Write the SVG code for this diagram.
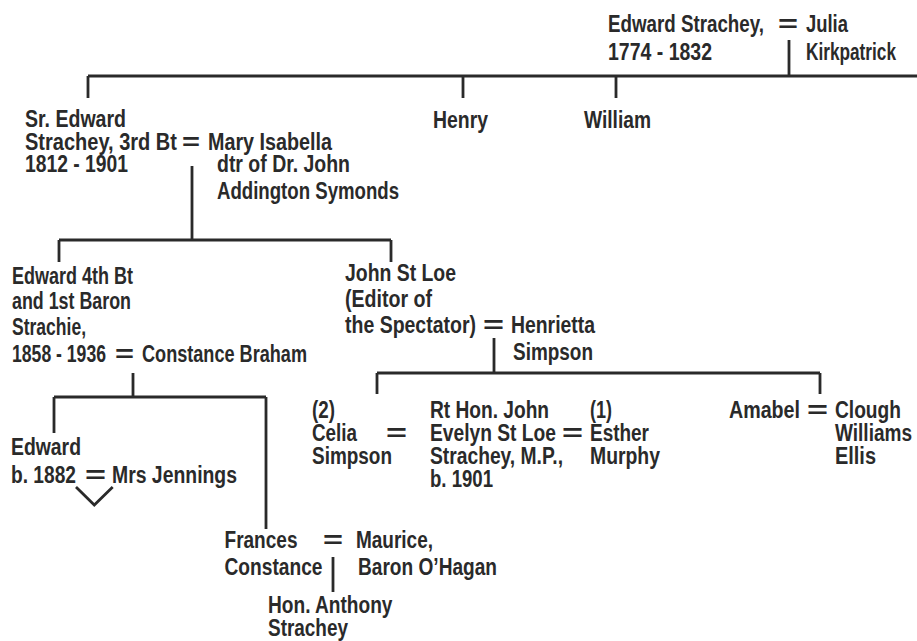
<svg xmlns="http://www.w3.org/2000/svg" width="917" height="641" viewBox="0 0 917 641">
<style>
text{font-family:"Liberation Sans Narrow","Liberation Sans",Arial,sans-serif;font-size:23px;font-weight:bold;fill:#2a2a2a}
.c{stroke:#2a2a2a;stroke-width:2.8;fill:none}
</style>
<rect width="917" height="641" fill="#fff"/>
<g id="connectors" class="c">
<path d="M789 40V76M88 76H917M88 76V98M463 76V98M616 76V98"/>
<path d="M192 166V240M59 240H391M59 240V262M391 240V262"/>
<path d="M133 373V397M54 397H266M54 397V433M266 397V529"/>
<path d="M76 487L94.3 505L112.7 487"/>
<path d="M333 557V592"/>
<path d="M494 338V373M377 373H820M377 373V394M820 373V394"/>
</g>
<g id="edward-strachey-1774">
<text x="608" y="31.5" textLength="156" lengthAdjust="spacingAndGlyphs">Edward Strachey,</text>
<text x="608" y="59.5" textLength="104" lengthAdjust="spacingAndGlyphs">1774 - 1832</text>
<text x="778" y="31.5" textLength="20" lengthAdjust="spacingAndGlyphs">=</text>
</g>
<g id="julia-kirkpatrick">
<text x="806" y="31.5" textLength="42" lengthAdjust="spacingAndGlyphs">Julia</text>
<text x="806" y="59.5" textLength="90" lengthAdjust="spacingAndGlyphs">Kirkpatrick</text>
</g>
<g id="sr-edward">
<text x="25" y="127" textLength="101" lengthAdjust="spacingAndGlyphs">Sr. Edward</text>
<text x="25" y="149.5" textLength="152" lengthAdjust="spacingAndGlyphs">Strachey, 3rd Bt</text>
<text x="25" y="172" textLength="103" lengthAdjust="spacingAndGlyphs">1812 - 1901</text>
<text x="182" y="149.5" textLength="18" lengthAdjust="spacingAndGlyphs">=</text>
</g>
<g id="henry"><text x="433" y="128" textLength="55" lengthAdjust="spacingAndGlyphs">Henry</text></g>
<g id="william"><text x="584" y="128" textLength="67" lengthAdjust="spacingAndGlyphs">William</text></g>
<g id="mary-isabella">
<text x="208" y="149.5" textLength="124" lengthAdjust="spacingAndGlyphs">Mary Isabella</text>
<text x="217" y="172" textLength="133" lengthAdjust="spacingAndGlyphs">dtr of Dr. John</text>
<text x="217" y="199" textLength="182" lengthAdjust="spacingAndGlyphs">Addington Symonds</text>
</g>
<g id="edward-4th-bt">
<text x="12" y="284" textLength="121" lengthAdjust="spacingAndGlyphs">Edward 4th Bt</text>
<text x="12" y="309" textLength="119" lengthAdjust="spacingAndGlyphs">and 1st Baron</text>
<text x="12" y="335" textLength="74" lengthAdjust="spacingAndGlyphs">Strachie,</text>
<text x="12" y="361.5" textLength="94" lengthAdjust="spacingAndGlyphs">1858 - 1936</text>
<text x="115" y="361.5" textLength="19" lengthAdjust="spacingAndGlyphs">=</text>
</g>
<g id="constance-braham"><text x="142" y="361.5" textLength="165" lengthAdjust="spacingAndGlyphs">Constance Braham</text></g>
<g id="john-st-loe">
<text x="345" y="281" textLength="111" lengthAdjust="spacingAndGlyphs">John St Loe</text>
<text x="345" y="307" textLength="87" lengthAdjust="spacingAndGlyphs">(Editor of</text>
<text x="345" y="333" textLength="131" lengthAdjust="spacingAndGlyphs">the Spectator)</text>
<text x="483" y="333" textLength="21" lengthAdjust="spacingAndGlyphs">=</text>
</g>
<g id="henrietta-simpson">
<text x="511" y="333" textLength="84" lengthAdjust="spacingAndGlyphs">Henrietta</text>
<text x="513" y="360" textLength="80" lengthAdjust="spacingAndGlyphs">Simpson</text>
</g>
<g id="edward-b1882">
<text x="11" y="455" textLength="70" lengthAdjust="spacingAndGlyphs">Edward</text>
<text x="11" y="482.5" textLength="65" lengthAdjust="spacingAndGlyphs">b. 1882</text>
<text x="85" y="482.5" textLength="21" lengthAdjust="spacingAndGlyphs">=</text>
</g>
<g id="mrs-jennings"><text x="112" y="482.5" textLength="125" lengthAdjust="spacingAndGlyphs">Mrs Jennings</text></g>
<g id="frances-constance">
<text x="224.5" y="547.5" textLength="73" lengthAdjust="spacingAndGlyphs">Frances</text>
<text x="224.5" y="575" textLength="98" lengthAdjust="spacingAndGlyphs">Constance</text>
<text x="323" y="547.5" textLength="20" lengthAdjust="spacingAndGlyphs">=</text>
</g>
<g id="maurice-ohagan">
<text x="356" y="547.5" textLength="77" lengthAdjust="spacingAndGlyphs">Maurice,</text>
<text x="358" y="575" textLength="139" lengthAdjust="spacingAndGlyphs">Baron O’Hagan</text>
</g>
<g id="anthony-strachey">
<text x="268" y="613" textLength="124.5" lengthAdjust="spacingAndGlyphs">Hon. Anthony</text>
<text x="268" y="636" textLength="80" lengthAdjust="spacingAndGlyphs">Strachey</text>
</g>
<g id="celia-simpson">
<text x="312" y="418" textLength="23" lengthAdjust="spacingAndGlyphs">(2)</text>
<text x="312" y="441" textLength="45" lengthAdjust="spacingAndGlyphs">Celia</text>
<text x="312" y="464" textLength="80" lengthAdjust="spacingAndGlyphs">Simpson</text>
<text x="386" y="441" textLength="21" lengthAdjust="spacingAndGlyphs">=</text>
</g>
<g id="john-evelyn-st-loe">
<text x="430" y="418" textLength="119" lengthAdjust="spacingAndGlyphs">Rt Hon. John</text>
<text x="430" y="441" textLength="126" lengthAdjust="spacingAndGlyphs">Evelyn St Loe</text>
<text x="430" y="464" textLength="133" lengthAdjust="spacingAndGlyphs">Strachey, M.P.,</text>
<text x="430" y="487" textLength="63" lengthAdjust="spacingAndGlyphs">b. 1901</text>
<text x="562" y="441" textLength="21" lengthAdjust="spacingAndGlyphs">=</text>
</g>
<g id="esther-murphy">
<text x="590" y="418" textLength="22" lengthAdjust="spacingAndGlyphs">(1)</text>
<text x="590" y="441" textLength="59" lengthAdjust="spacingAndGlyphs">Esther</text>
<text x="590" y="464" textLength="70" lengthAdjust="spacingAndGlyphs">Murphy</text>
</g>
<g id="amabel">
<text x="729" y="418" textLength="71" lengthAdjust="spacingAndGlyphs">Amabel</text>
<text x="807" y="418" textLength="21" lengthAdjust="spacingAndGlyphs">=</text>
</g>
<g id="clough-williams-ellis">
<text x="835" y="418" textLength="66" lengthAdjust="spacingAndGlyphs">Clough</text>
<text x="835" y="441" textLength="77" lengthAdjust="spacingAndGlyphs">Williams</text>
<text x="835" y="464" textLength="41" lengthAdjust="spacingAndGlyphs">Ellis</text>
</g>
</svg>
